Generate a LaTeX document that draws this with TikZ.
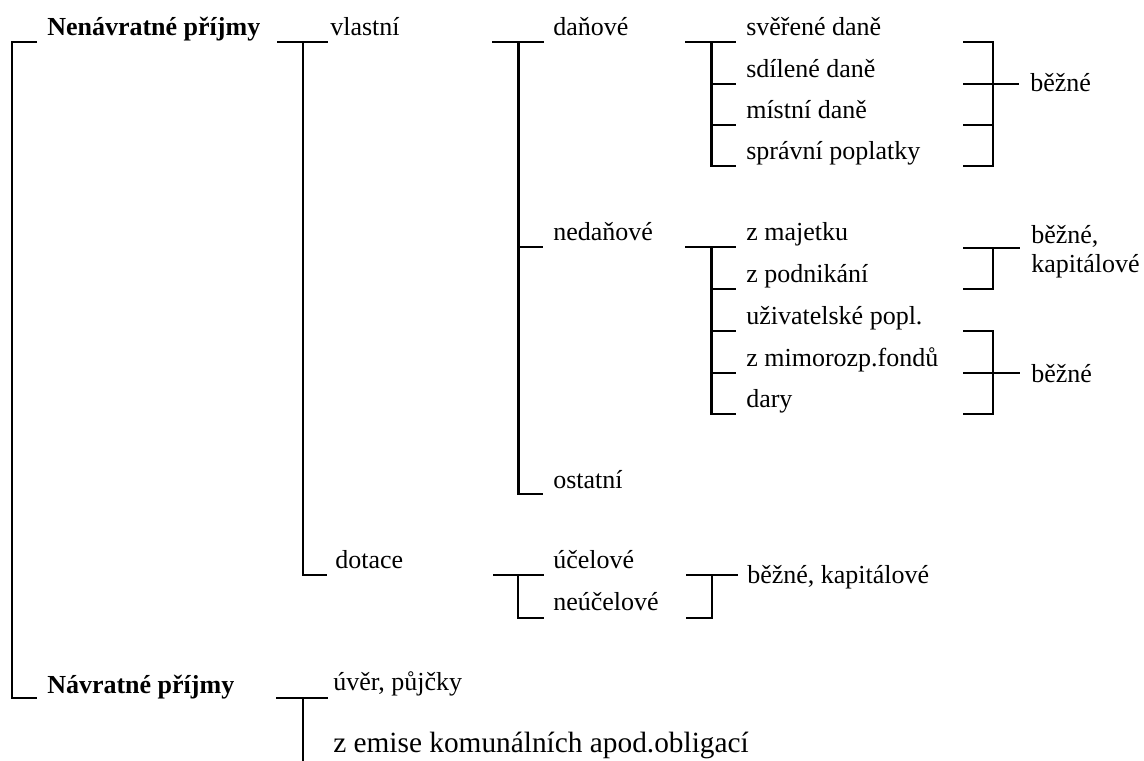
\documentclass[tikz,border=0pt]{standalone}
\usepackage{fontspec}
\setmainfont{Liberation Serif}
\tikzset{
  lbl/.style={anchor=base west, inner sep=0pt, font=\fontsize{19.5}{21.75}\selectfont},
  head/.style={lbl, font=\fontsize{19.5}{21.75}\selectfont\bfseries},
  br/.style={line width=2pt},
}
\begin{document}
\begin{tikzpicture}[x=0.75pt,y=-0.75pt]
  \useasboundingbox (0,0) rectangle (1144,760);
  % main headings
  \node [head] (nenavr) at (47,35) {Nenávratné příjmy};
  \node [head] (navr) at (47,693) {Návratné příjmy};
  \draw [br] (37,42) -| (12,698) -- (37,698);
  % first level
  \node [lbl] (vlastni) at (330,35) {vlastní};
  \node [lbl] (dotace) at (335,568) {dotace};
  \draw [br] (277,42) -- (328,42);
  \draw [br] (303,42) |- (327,575);
  % vlastni
  \node [lbl] (danove) at (553,35) {daňové};
  \node [lbl] (nedanove) at (553,240) {nedaňové};
  \node [lbl] (ostatni) at (553,488) {ostatní};
  \draw [br] (492,42) -- (544,42);
  \draw [br] (518.5,42) |- (543,494);
  \draw [br] (518.5,247) -- (543,247);
  % danove
  \node [lbl] (sverene) at (746,35) {svěřené daně};
  \node [lbl] (sdilene) at (746,77) {sdílené daně};
  \node [lbl] (mistni) at (746,118) {místní daně};
  \node [lbl] (spravni) at (746,159) {správní poplatky};
  \draw [br] (685,42) -- (736,42);
  \draw [br] (711.5,42) |- (736,166);
  \foreach \y in {84,125}
    \draw [br] (711.5,\y) -- (736,\y);
  \draw [br] (963,42) -| (993,166) -- (963,166);
  \foreach \y in {84,125}
    \draw [br] (963,\y) -- (993,\y);
  \draw [br] (993,84) -- (1019,84);
  \node [lbl] (bezne1) at (1030,91) {běžné};
  % nedanove
  \node [lbl] (majetek) at (746,240) {z majetku};
  \node [lbl] (podnik) at (746,282) {z podnikání};
  \node [lbl] (uzivpopl) at (746,324) {uživatelské popl.};
  \node [lbl] (fondy) at (746,366) {z mimorozp.fondů};
  \node [lbl] (dary) at (746,407) {dary};
  \draw [br] (685,247) -- (736,247);
  \draw [br] (711.5,247) |- (736,414);
  \foreach \y in {289,331,373}
    \draw [br] (711.5,\y) -- (736,\y);
  \draw [br] (963,248) -- (1020,248);
  \draw [br] (993,248) |- (963,289);
  \node [lbl, align=left] (bezkap1) at (1031,272) {běžné,\\kapitálové};
  \draw [br] (963,331) -| (993,414) -- (963,414);
  \draw [br] (963,373) -- (1020,373);
  \node [lbl] (bezne2) at (1031,382) {běžné};
  % dotace
  \node [lbl] (ucelove) at (553,568) {účelové};
  \node [lbl] (neucelove) at (553,610) {neúčelové};
  \draw [br] (493,575) -- (544,575);
  \draw [br] (518,575) |- (544,618);
  \draw [br] (686,575) -- (738,575);
  \draw [br] (712,575) |- (686,618);
  \node [lbl] (bezkap2) at (747,583) {běžné, kapitálové};
  % navratne
  \node [lbl] (uver) at (333,690) {úvěr, půjčky};
  \node [lbl, font=\fontsize{22}{26}\selectfont] (emise) at (333,752) {z emise komunálních apod.obligací};
  \draw [br] (276,698) -- (328,698);
  \draw [br] (303,698) -- (303,770);
\end{tikzpicture}
\end{document}
